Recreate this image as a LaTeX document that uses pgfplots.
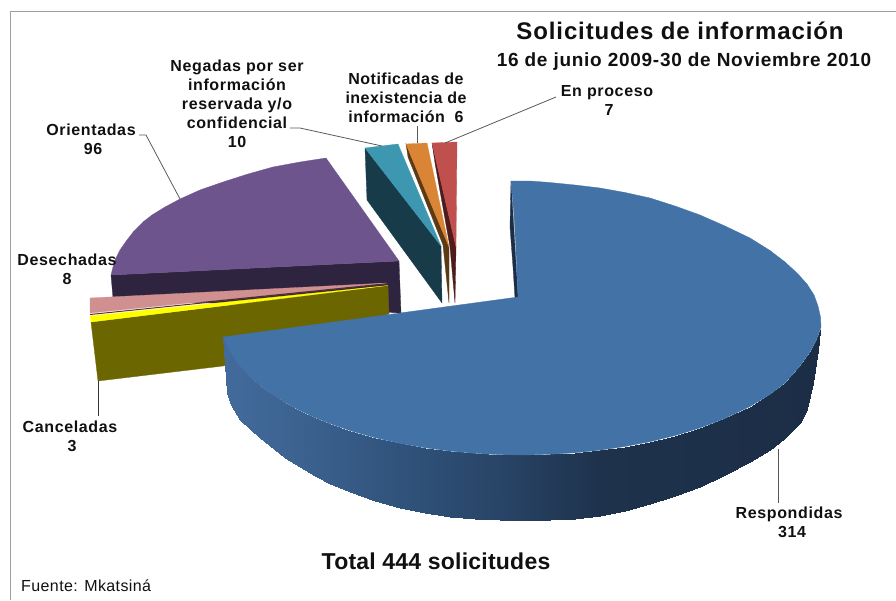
\documentclass[border=0pt]{standalone}
\usepackage{fontspec}
\setmainfont{Liberation Sans}
\usepackage{pgfplots}
\pgfplotsset{compat=1.18}
\definecolor{cblue}{HTML}{4372A6}
\definecolor{cbluedk}{HTML}{1C2E46}
\definecolor{cpurple}{HTML}{6D548C}
\definecolor{cpurpledk}{HTML}{2E2440}
\definecolor{cpink}{HTML}{D09090}
\definecolor{cmaroon}{HTML}{5A3030}
\definecolor{colive}{HTML}{6B6600}
\definecolor{cyel}{HTML}{FFFF00}
\definecolor{cteal}{HTML}{3D97B0}
\definecolor{ctealdk}{HTML}{183B4A}
\definecolor{corange}{HTML}{DA8536}
\definecolor{cbrown}{HTML}{5C3A14}
\definecolor{cred}{HTML}{C0504D}
\definecolor{creddk}{HTML}{4F1C1B}
\definecolor{ctext}{HTML}{101010}
\newcommand{\lab}{\fontsize{16}{19}\selectfont\bfseries\addfontfeatures{LetterSpace=4}}
\begin{document}
\begin{tikzpicture}[x=1pt,y=1pt]
\useasboundingbox (0,0) rectangle (896,600);
\begin{axis}[
  at={(0,0)},anchor=south west,
  scale only axis,width=896pt,height=600pt,
  xmin=0,xmax=896,ymin=0,ymax=600,y dir=reverse,
  hide axis,clip=false,
  colormap={sidegrad}{rgb255(223)=(66,107,156); rgb255(300)=(60,98,143); rgb255(400)=(48,83,124); rgb255(500)=(40,68,102); rgb255(600)=(30,50,76); rgb255(821)=(28,46,70)},
  point meta min=223,point meta max=821,
]
% frame
\addplot[color=black!38,line width=1pt] coordinates {(10.5,600)(10.5,11.5)(896,11.5)};
% purple (Orientadas 96)
\addplot[fill=cpurpledk,draw=cpurpledk,line width=.3pt] coordinates {(111,275)(399,261)(401,313)(113,298)} --cycle;
\addplot[fill=cpurple,draw=cpurple,line width=.3pt] coordinates {(326,158)(399,261)(111,275)(113,267)(115,260)(120,250)(127,240)(134,231)(143,222)(152,215)(165,207)(180,199)(200,190)(223,182)(248,174)(273,167)(300,162)} --cycle;
% pink (Desechadas 8)
\addplot[fill=cpink,draw=cpink,line width=.3pt] coordinates {(90,298)(387,283)(90,313)} --cycle;
\addplot[color=cmaroon,line width=1pt] coordinates {(90,314.5)(387,284)};
% olive + yellow (Canceladas 3)
\addplot[fill=colive,draw=colive,line width=.3pt] coordinates {(91,322)(388,286)(389,314)(223,366)(98,381)} --cycle;
\addplot[fill=cyel,draw=cyel,line width=.3pt] coordinates {(90,316)(388,285.5)(91,322)} --cycle;
% teal (Negadas 10)
\addplot[fill=ctealdk,draw=ctealdk,line width=.3pt] coordinates {(365,148)(367,200)(442,303)(441,246)} --cycle;
\addplot[fill=cteal,draw=cteal,line width=.3pt] coordinates {(365,148)(398,144)(441,246)} --cycle;
% orange (Notificadas 6)
\addplot[fill=cbrown,draw=cbrown,line width=.3pt] coordinates {(406,144)(408,157)(443,245)(449,303)(449,247)} --cycle;
\addplot[fill=corange,draw=corange,line width=.3pt] coordinates {(406,144)(427,143)(449,247)} --cycle;
% red (En proceso 7)
\addplot[fill=creddk,draw=creddk,line width=.3pt] coordinates {(432,143)(435,163)(450,247)(455,303)(456,247)} --cycle;
\addplot[fill=cred,draw=cred,line width=.3pt] coordinates {(432,143)(457,142)(456,247)} --cycle;
% blue side (Respondidas 314)
\addplot[fill=cbluedk,draw=cbluedk,line width=.3pt] coordinates {(511,181)(510,227)(513,267)(515,298)(518,297)} --cycle;
\addplot[patch,patch type=rectangle,shader=interp,point meta=x,colormap name=sidegrad] coordinates {
(223,337)(227,393)(231,405)(230,351)
(230,351)(231,405)(240,420)(240,366)
(240,366)(240,420)(250,429)(250,377)
(250,377)(250,429)(260,437.5)(260,385.5)
(260,385.5)(260,437.5)(270,445.5)(270,393)
(270,393)(270,445.5)(285,457.5)(285,402.5)
(285,402.5)(285,457.5)(300,467)(300,410.6)
(300,410.6)(300,467)(315,476)(315,417.6)
(315,417.6)(315,476)(330,484)(330,423.6)
(330,423.6)(330,484)(350,492)(350,430.6)
(350,430.6)(350,492)(375,501)(375,437.7)
(375,437.7)(375,501)(400,508)(400,443.4)
(400,443.4)(400,508)(425,513)(425,447.8)
(425,447.8)(425,513)(450,517)(450,451.1)
(450,451.1)(450,517)(475,519)(475,453.4)
(475,453.4)(475,519)(500,520)(500,454.7)
(500,454.7)(500,520)(525,520.5)(525,455)
(525,455)(525,520.5)(550,520)(550,454.3)
(550,454.3)(550,520)(575,518.5)(575,452.8)
(575,452.8)(575,518.5)(600,516)(600,450.2)
(600,450.2)(600,516)(625,511)(625,446.5)
(625,446.5)(625,511)(650,504)(650,441.7)
(650,441.7)(650,504)(675,496)(675,435.6)
(675,435.6)(675,496)(700,487)(700,427.9)
(700,427.9)(700,487)(725,475)(725,418.4)
(725,418.4)(725,475)(750,462)(750,406.5)
(750,406.5)(750,462)(770,450)(770,394.4)
(770,394.4)(770,450)(785,438)(785,383)
(785,383)(785,438)(800,423)(800,366)
(800,366)(800,423)(807,409)(810,352)
(810,352)(807,409)(813,383)(816,341)
(816,341)(813,383)(818,350)(820,330)
};
% blue top
\addplot[fill=cblue,draw=cblue,line width=.3pt] coordinates {(511,181)(530,181)(550,182.5)(575,185)(600,188)(625,192.5)(650,198)(675,206)(700,215)(725,226)(750,238)(770,250.5)(785,262)(797,273)(807,284)(814,295)(818,306)(820.5,317)(821,327)(820,330)(816,341)(810,352)(800,366)(785,383)(770,394.4)(750,406.5)(725,418.4)(700,427.9)(675,435.6)(650,441.7)(625,446.5)(600,450.2)(575,452.8)(550,454.3)(525,455)(500,454.7)(475,453.4)(450,451.1)(425,447.8)(400,443.4)(375,437.7)(350,430.6)(330,423.6)(315,417.6)(300,410.6)(285,402.5)(270,393)(260,385.5)(250,377)(240,366)(230,351)(223,337)(518,297)(516,250)(514,215)} --cycle;
% leader lines
\addplot[color=black!65,line width=.8pt] coordinates {(139,135)(146,135)(180,199)};
\addplot[color=black!65,line width=.8pt] coordinates {(290,128)(300,128)(382,146)};
\addplot[color=black!65,line width=.8pt] coordinates {(417,126)(417,143)};
\addplot[color=black!65,line width=.8pt] coordinates {(556,97)(445,143)};
\addplot[color=black!80,line width=.8pt] coordinates {(98.5,381)(98.5,416)};
\addplot[color=black!65,line width=.8pt] coordinates {(778,449)(778,503)};
% texts
\node[text=ctext,font={\fontsize{24}{28}\selectfont\bfseries\addfontfeatures{LetterSpace=3.7}}] at (axis cs:680,31) {Solicitudes de información};
\node[text=ctext,font={\fontsize{19}{22}\selectfont\bfseries\addfontfeatures{LetterSpace=3.8}}] at (axis cs:684,62) {16 de junio 2009-30 de Noviembre 2010};
\node[text=ctext,align=center,font=\lab] at (axis cs:607,100) {En proceso\\\hspace*{4pt}7};
\node[text=ctext,align=center,font={\fontsize{16}{19}\selectfont\bfseries\addfontfeatures{LetterSpace=3}}] at (axis cs:406,98) {Notificadas de\\inexistencia de\\información~~6};
\node[text=ctext,align=center,font=\lab] at (axis cs:237,104) {Negadas por ser\\información\\reservada y/o\\confidencial\\10};
\node[text=ctext,align=center,font=\lab] at (axis cs:91,139) {Orientadas\\\hspace*{4pt}96};
\node[text=ctext,align=center,font=\lab] at (axis cs:67,269) {Desechadas\\8};
\node[text=ctext,align=center,font=\lab] at (axis cs:70,436) {Canceladas\\\hspace*{4pt}3};
\node[text=ctext,align=center,font=\lab] at (axis cs:789,522) {Respondidas\\\hspace*{6pt}314};
\node[text=ctext,font={\fontsize{23}{26}\selectfont\bfseries\addfontfeatures{LetterSpace=1}}] at (axis cs:436,561) {Total 444 solicitudes};
\node[text=ctext,anchor=west,inner sep=0pt,font={\fontsize{16}{19}\selectfont\addfontfeatures{LetterSpace=2.5}}] at (axis cs:21,586) {Fuente: Mkatsiná};
\end{axis}
\end{tikzpicture}
\end{document}
